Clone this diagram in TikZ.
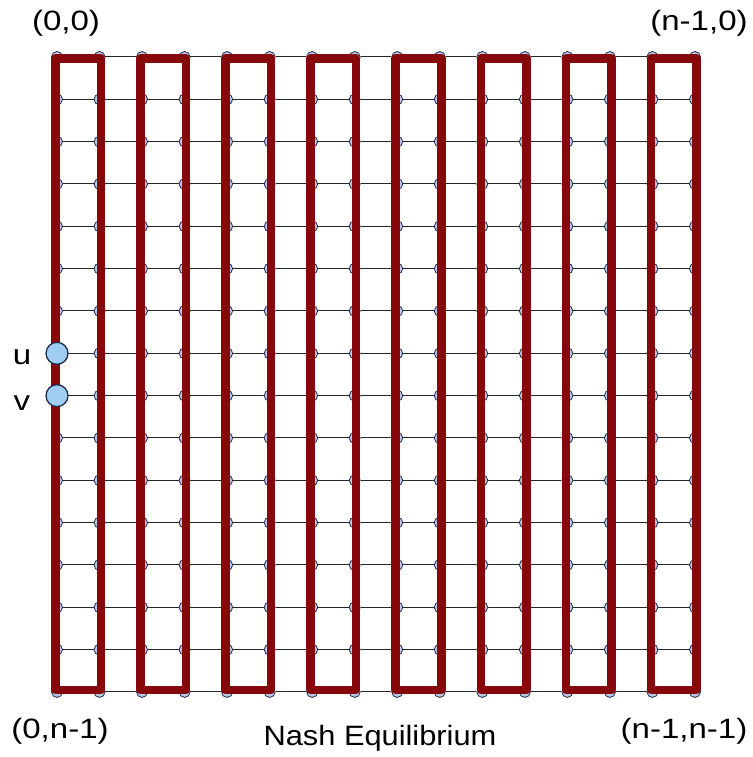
\documentclass[tikz,border=0pt]{standalone}
\usepackage{fontspec}
\setmainfont{Liberation Sans}
\newfontfamily\lblfont{Liberation Sans}[FakeStretch=1.18]
\newfontfamily\titlefont{Liberation Sans}[FakeStretch=1.1]
\usetikzlibrary{positioning}
\definecolor{pathred}{RGB}{135,8,10}
\definecolor{nodefill}{RGB}{185,202,230}
\definecolor{nodeline}{RGB}{35,45,75}
\definecolor{uvfill}{RGB}{160,205,242}

\begin{document}
\begin{tikzpicture}[x=1pt,y=-1pt,
  gridnode/.style={circle,draw=nodeline,fill=nodefill,line width=0.8pt,minimum size=11pt,inner sep=0pt},
  bignode/.style={circle,draw=nodeline,fill=uvfill,line width=1.3pt,minimum size=22pt,inner sep=0pt},
  gridline/.style={line width=1pt,draw=black!85},
  cycleline/.style={line width=8.5pt,draw=pathred,line join=round},
  lbl/.style={inner sep=0pt,font=\lblfont\fontsize{28}{33.6}\selectfont}]
\path[use as bounding box] (0,0) rectangle (752.0,757.0);
% grid vertices
\foreach \i in {0,...,15}
  \foreach \j in {0,...,15}
    \node[gridnode] (n-\i-\j) at ({57+42.53*\i},{57+42.33*\j}) {};
% horizontal edges
\foreach \j in {0,...,15}
  \foreach \i [count=\k from 1] in {0,...,14}
    \draw[gridline] (n-\i-\j) -- (n-\k-\j);
% the cycles, a little outside the vertex centres
\foreach \c in {0,...,7} {
  \pgfmathtruncatemacro\a{2*\c}
  \pgfmathtruncatemacro\b{2*\c+1}
  \draw[cycleline] ([shift={(-1.5,1.5)}]n-\a-0.center) -- ([shift={(1.5,1.5)}]n-\b-0.center)
    -- ([shift={(1.5,-2)}]n-\b-15.center) -- ([shift={(-1.5,-2)}]n-\a-15.center) -- cycle;
}
\node[bignode] (u) at (n-0-7) {};
\node[bignode] (v) at (n-0-8) {};
\node[lbl] (u-lbl) at (22,357) {u};
\node[lbl] (v-lbl) at (22,403) {v};
\node[lbl] (tl) at (66,23) {(0,0)};
\node[lbl] (tr) at (699,23) {(n-1,0)};
\node[lbl] (bl) at (60,731) {(0,n-1)};
\node[lbl] (br) at (684,731) {(n-1,n-1)};
\node[lbl,anchor=base,font=\titlefont\fontsize{28}{33.6}\selectfont] (title) at (380,745) {Nash Equilibrium};
\end{tikzpicture}
\end{document}
